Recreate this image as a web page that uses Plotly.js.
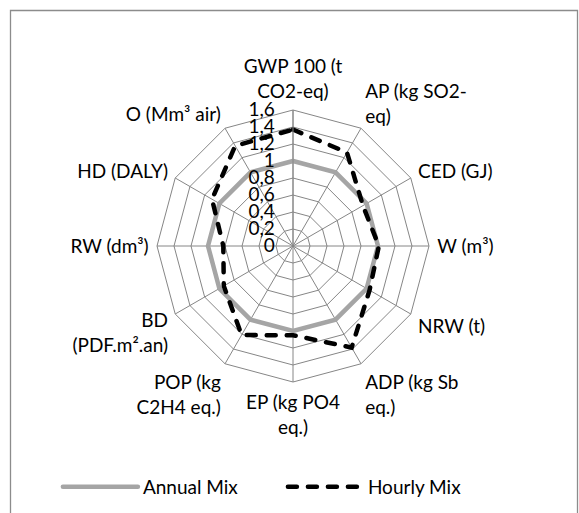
<!DOCTYPE html>
<html>
<head>
<meta charset="utf-8">
<script src="https://cdn.plot.ly/plotly-3.0.1.min.js"></script>
<style>
html,body{margin:0;padding:0;background:#fff;}
#chart{width:579px;height:513px;}
#chart path.js-line{stroke-linecap:round;}
</style>
</head>
<body>
<div id="chart"></div>
<script>
const categories = ["GWP", "AP", "CED", "W", "NRW", "ADP", "EP", "POP", "BD", "RW", "HD", "O"];
const tickLabels = ["GWP 100 (t<br>CO2-eq)", "AP (kg SO2-<br>eq)", "CED (GJ)", "W (m³)", "NRW (t)", "ADP (kg Sb<br>eq.)", "EP (kg PO4<br>eq.)", "POP (kg<br>C2H4 eq.)", "BD<br>(PDF.m².an)", "RW (dm³)", "HD (DALY)", "O (Mm³ air)"];
const annualMix = [1, 1, 1, 1, 1, 1, 1, 1, 1, 1, 1, 1];
const hourlyMix = [1.37, 1.27, 0.95, 1.01, 1.04, 1.38, 1.05, 1.21, 0.94, 0.82, 1.10, 1.36];
const radialTicks = [0, 0.2, 0.4, 0.6, 0.8, 1, 1.2, 1.4, 1.6];

const close = a => a.concat([a[0]]);

const W = 579, H = 513;
const cx = 293, cy = 246, R = 136;
const FS = 19;

const traces = [
  {
    type: 'scatterpolar', mode: 'lines', name: 'Annual Mix',
    r: close(annualMix), theta: close(categories),
    line: {color: '#A5A5A5', width: 4.5},
    hoverinfo: 'skip'
  },
  {
    type: 'scatterpolar', mode: 'lines', name: 'Hourly Mix',
    r: close(hourlyMix), theta: close(categories),
    line: {color: '#000000', width: 4.5, dash: '9px,11px'},
    hoverinfo: 'skip'
  }
];

const gridColor = '#868686';
const layout = {
  width: W, height: H,
  margin: {l: 0, r: 0, t: 0, b: 0, pad: 0},
  paper_bgcolor: '#ffffff',
  separators: ',.',
  font: {family: 'Lato, "Open Sans", sans-serif', size: FS, color: '#000'},
  showlegend: true,
  legend: {
    orientation: 'h', x: 0.1, xanchor: 'left', y: (H - 487) / H, yanchor: 'middle',
    font: {size: FS, color: '#000'}, itemwidth: 75, entrywidth: 135, tracegroupgap: 0,
    bgcolor: 'rgba(0,0,0,0)'
  },
  polar: {
    domain: {x: [(cx - R) / W, (cx + R) / W], y: [(H - cy - R) / H, (H - cy + R) / H]},
    gridshape: 'linear',
    bgcolor: 'rgba(0,0,0,0)',
    angularaxis: {
      type: 'category', categoryarray: categories,
      direction: 'clockwise', rotation: 90,
      tickmode: 'array', tickvals: categories, ticktext: tickLabels,
      showline: true, linecolor: gridColor, linewidth: 1,
      gridcolor: gridColor, gridwidth: 1,
      ticks: 'outside', ticklen: 4, tickcolor: 'rgba(0,0,0,0)',
      tickfont: {size: FS, color: '#000'}
    },
    radialaxis: {
      range: [0, 1.6], tickmode: 'array', tickvals: radialTicks,
      angle: 90, side: 'counterclockwise', tickangle: 90,
      showline: true, linecolor: gridColor, linewidth: 1,
      gridcolor: gridColor, gridwidth: 1,
      ticks: 'outside', ticklen: 11, tickcolor: 'rgba(0,0,0,0)',
      tickformat: '.1~f',
      tickfont: {size: FS, color: '#000'}
    }
  },
  shapes: [{
    type: 'rect', xref: 'paper', yref: 'paper', layer: 'below',
    x0: 10.5 / W, x1: 577.5 / W, y0: -0.1, y1: 1 - 10.5 / H,
    line: {color: '#8c8c8c', width: 1.3}
  }]
};

Plotly.newPlot('chart', traces, layout, {displayModeBar: false, staticPlot: true});
</script>
</body>
</html>
